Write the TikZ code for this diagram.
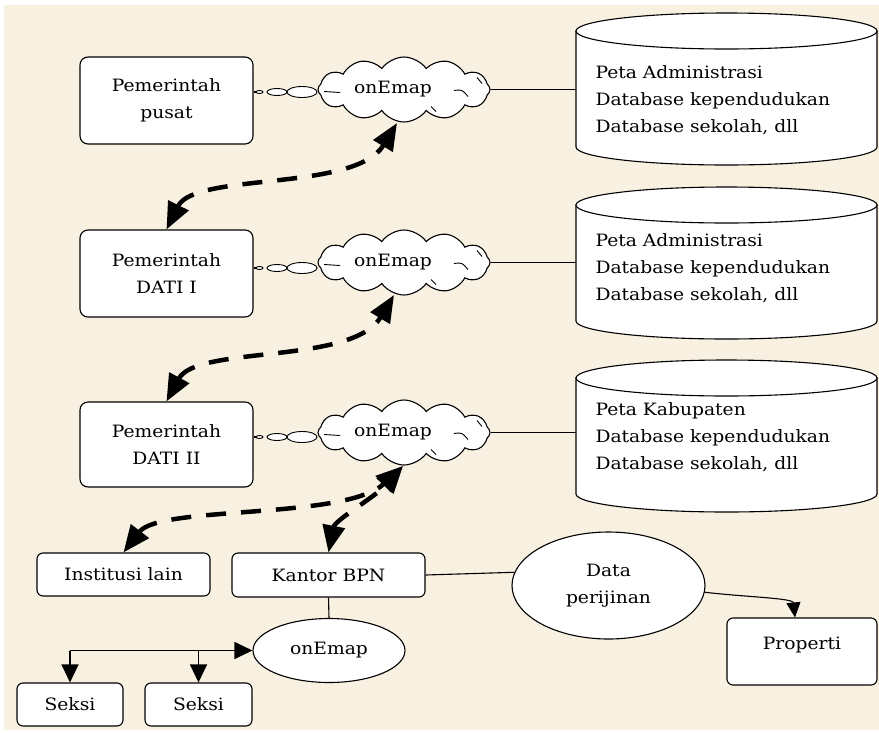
\documentclass[tikz,border=0pt]{standalone}
\usepackage{fontspec}
\setmainfont[FakeStretch=1.1]{DejaVu Serif}
\usetikzlibrary{shapes.symbols,shapes.geometric,arrows.meta}
\definecolor{bgc}{RGB}{248,240,224}
\newcommand\mycyl[4]{%
  \draw[fill=white] (576,#1+18) -- (576,#1+134)
     .. controls (576,#1+143.94) and (643.4,#1+152) .. (726.5,#1+152)
     .. controls (809.6,#1+152) and (877,#1+143.94) .. (877,#1+134)
     -- (877,#1+18) -- cycle;
  \draw[fill=white] (726.5,#1+18) ellipse [x radius=150.5, y radius=18];
  \node[anchor=west, align=left, inner sep=0pt] (#2t) at (595,#3) {#4};
}
\newcommand\mychain[2]{%
  \node[chl, minimum width=7pt, minimum height=3pt] (#1a) at (259.5,#2) {};
  \node[chl, minimum width=20pt, minimum height=7pt] (#1b) at (277,#2) {};
  \node[chl, minimum width=30pt, minimum height=11pt] (#1c) at (302,#2) {};
}
\newcommand\myticks[1]{%
  \draw[line width=0.9pt] ([shift={(-80,2)}]#1.center) -- ++(16,1);
  \draw[line width=0.9pt] ([shift={(50,1)}]#1.center) .. controls ++(8,-1) .. ++(14,6);
  \draw[line width=0.9pt] ([shift={(73,-12)}]#1.center) -- ++(5,6);
  \draw[line width=0.9pt] ([shift={(27,17)}]#1.center) -- ++(5,5);
}
\begin{document}
\begin{tikzpicture}[x=1pt,y=-1pt,
  font=\fontsize{17}{27}\selectfont, line width=1.1pt,
  box/.style={draw, fill=white, rounded corners=8pt, align=center, inner sep=0pt},
  cloudn/.style={cloud, draw, fill=white, cloud puffs=12, cloud puff arc=110,
     minimum width=172pt, minimum height=65pt, inner sep=0pt},
  chl/.style={ellipse, draw, fill=white, inner sep=0pt, line width=0.9pt},
  ell/.style={ellipse, draw, fill=white, inner sep=0pt, align=center},
  dasharr/.style={line width=4.5pt, dash pattern=on 20pt off 15pt,
     {Triangle[length=27pt,width=22pt]}-{Triangle[length=27pt,width=22pt]}},
  arrS/.style={-{Triangle[length=18pt,width=17pt]}},
  arrP/.style={-{Triangle[length=15pt,width=14pt]}}]
\useasboundingbox (0,0) rectangle (879,732);
\fill[bgc] (4,5) rectangle (879,730);

% cylinders
\mycyl{13}{cy1}{100}{Peta Administrasi\\Database kependudukan\\Database sekolah, dll}
\mycyl{187}{cy2}{268}{Peta Administrasi\\Database kependudukan\\Database sekolah, dll}
\mycyl{360}{cy3}{437}{Peta Kabupaten\\Database kependudukan\\Database sekolah, dll}
\coordinate (cy1w) at (576,89.5);
\coordinate (cy2w) at (576,262.5);
\coordinate (cy3w) at (576,432.5);

% boxes
\node[box, minimum width=173pt, minimum height=87pt] (b1) at (166.5,100.5) {Pemerintah\\pusat};
\node[box, minimum width=173pt, minimum height=87pt] (b2) at (166.5,273.5) {Pemerintah\\DATI I};
\node[box, minimum width=173pt, minimum height=85pt] (b3) at (166.5,444.5) {Pemerintah\\DATI II};
\node[box, rounded corners=6pt, minimum width=173pt, minimum height=43pt] (inst) at (123.5,574.5) {Institusi lain};
\node[box, rounded corners=6pt, minimum width=193pt, minimum height=44pt] (kan) at (328.5,575) {Kantor BPN};
\node[box, rounded corners=6pt, minimum width=106pt, minimum height=43pt] (s1) at (70,704.5) {Seksi};
\node[box, rounded corners=6pt, minimum width=107pt, minimum height=43pt] (s2) at (198.5,704.5) {Seksi};
\node[box, rounded corners=6pt, minimum width=150pt, minimum height=67pt,
      label={[yshift=6pt]center:Properti}] (prop) at (802,651.5) {};

% clouds
\node[cloudn, label={[xshift=-11pt]center:onEmap}] (c1) at (404,89.5) {};
\node[cloudn, label={[xshift=-11pt]center:onEmap}] (c2) at (404,262.5) {};
\node[cloudn, label={[xshift=-11pt]center:onEmap}] (c3) at (404,432.5) {};
\myticks{c1}\myticks{c2}\myticks{c3}

% chains
\mychain{k1}{92}\mychain{k2}{268}\mychain{k3}{437}
\draw (b1.east |- k1a.west) -- (k1a.west);
\draw (b2.east |- k2a.west) -- (k2a.west);
\draw (b3.east |- k3a.west) -- (k3a.west);

% cloud to cylinder
\draw (c1.east) -- (cy1w);
\draw (c2.east) -- (cy2w);
\draw (c3.east) -- (cy3w);

% ellipses
\node[ell, minimum width=152pt, minimum height=64pt] (e) at (329,650.5) {onEmap};
\node[ell, minimum width=193pt, minimum height=107pt] (d) at (608.5,585.5) {Data\\perijinan};

% dashed arrows
\draw[dasharr] (b2.north) .. controls (195,172) and (355,192) .. ([shift={(-7,33.5)}]c1.center);
\draw[dasharr] (b3.north) .. controls (197,345) and (352,365) .. ([shift={(-10,32.5)}]c2.center);
\draw[dasharr] (inst.north) .. controls (160,505) and (345,520) .. ([shift={(-1,33.5)}]c3.center);
\draw[dasharr] (kan.north) .. controls (335,520) and (375,497) .. ([shift={(-1,33.5)}]c3.center);

% lower connectors
\draw (kan.south) -- (e.north);
\draw (kan.east) -- (d.172);
\draw[arrP] (d.-4) .. controls (745,597) and (793,598) .. ([xshift=-7pt]prop.north);
\draw[arrS] (s1.north |- e.west) -- (e.west);
\draw[arrS] (s1.north |- e.west) -- (s1.north);
\draw[arrS] (s2.north |- e.west) -- (s2.north);
\end{tikzpicture}
\end{document}
